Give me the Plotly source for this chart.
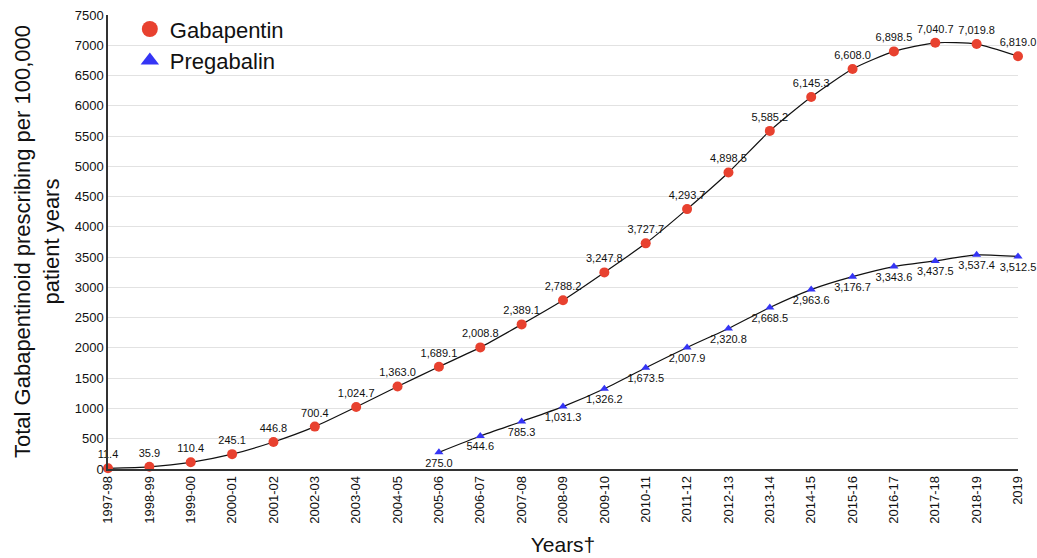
import plotly.graph_objects as go

categories = ["1997-98", "1998-99", "1999-00", "2000-01", "2001-02", "2002-03", "2003-04",
              "2004-05", "2005-06", "2006-07", "2007-08", "2008-09", "2009-10", "2010-11",
              "2011-12", "2012-13", "2013-14", "2014-15", "2015-16", "2016-17", "2017-18",
              "2018-19", "2019"]
gabapentin = [11.4, 35.9, 110.4, 245.1, 446.8, 700.4, 1024.7, 1363.0, 1689.1, 2008.8,
              2389.1, 2788.2, 3247.8, 3727.7, 4293.7, 4898.5, 5585.2, 6145.3, 6608.0,
              6898.5, 7040.7, 7019.8, 6819.0]
pregabalin_categories = categories[8:]
pregabalin = [275.0, 544.6, 785.3, 1031.3, 1326.2, 1673.5, 2007.9, 2320.8, 2668.5,
              2963.6, 3176.7, 3343.6, 3437.5, 3537.4, 3512.5]
y_ticks = list(range(0, 7501, 500))

FONT = "Liberation Sans, Arial, Helvetica, sans-serif"
RED = "#E8412F"
BLUE = "#3535F5"

fig = go.Figure()
fig.add_trace(go.Scatter(
    x=categories, y=gabapentin, mode="lines+markers+text",
    line=dict(color="#111111", width=1.2, shape="spline", smoothing=0.6),
    marker=dict(color=RED, size=10, symbol="circle"),
    text=gabapentin, texttemplate="%{y:,.1f}", textposition="top center",
    textfont=dict(size=11, color="#111111", family=FONT),
    cliponaxis=False, showlegend=False))
fig.add_trace(go.Scatter(
    x=pregabalin_categories, y=pregabalin, mode="lines+markers+text",
    line=dict(color="#111111", width=1.2, shape="spline", smoothing=0.6),
    marker=dict(color=BLUE, size=8, symbol="triangle-up"),
    text=pregabalin, texttemplate="%{y:,.1f}", textposition="bottom center",
    textfont=dict(size=11, color="#111111", family=FONT),
    cliponaxis=False, showlegend=False))
# legend entries (larger symbols)
fig.add_trace(go.Scatter(x=[None], y=[None], mode="markers", name="Gabapentin",
                         marker=dict(color=RED, size=22, symbol="circle")))
fig.add_trace(go.Scatter(x=[None], y=[None], mode="markers", name="Pregabalin",
                         marker=dict(color=BLUE, size=22, symbol="triangle-up")))

fig.update_layout(
    width=1037, height=558,
    margin=dict(l=108, r=19, t=15, b=89, autoexpand=False),
    paper_bgcolor="white", plot_bgcolor="white",
    font=dict(family=FONT, color="#111111"),
    legend=dict(x=0.024, y=1.015, xanchor="left", yanchor="top",
                font=dict(size=22, color="#111111", family=FONT),
                bgcolor="rgba(0,0,0,0)", tracegroupgap=4),
    xaxis=dict(type="category", categoryorder="array", categoryarray=categories,
               range=[0, 22], tickangle=-90, tickfont=dict(size=13, color="#111111"),
               showgrid=False, showline=True, linecolor="#333333", linewidth=1.5,
               ticks="", zeroline=False, automargin=False, ticklabeloverflow="allow",
               title=dict(text="Years†", font=dict(size=21, color="#111111"), standoff=15)),
    yaxis=dict(range=[0, 7500], tickvals=y_ticks, tickfont=dict(size=13, color="#111111"),
               showgrid=True, gridcolor="#e2e2e2", gridwidth=1, automargin=False,
               ticklabeloverflow="allow",
               showline=True, linecolor="#333333", linewidth=1.5, ticks="", zeroline=False),
    annotations=[dict(text="Total Gabapentinoid prescribing per 100,000<br>patient years",
                      xref="paper", yref="paper", x=-0.078, y=0.5, xanchor="center",
                      yanchor="middle", textangle=-90, showarrow=False,
                      font=dict(size=22, color="#111111", family=FONT))],
)

fig.write_html("out.html", config={"displayModeBar": False},
               post_script="document.body.style.margin='0';document.body.style.overflow='hidden';")
